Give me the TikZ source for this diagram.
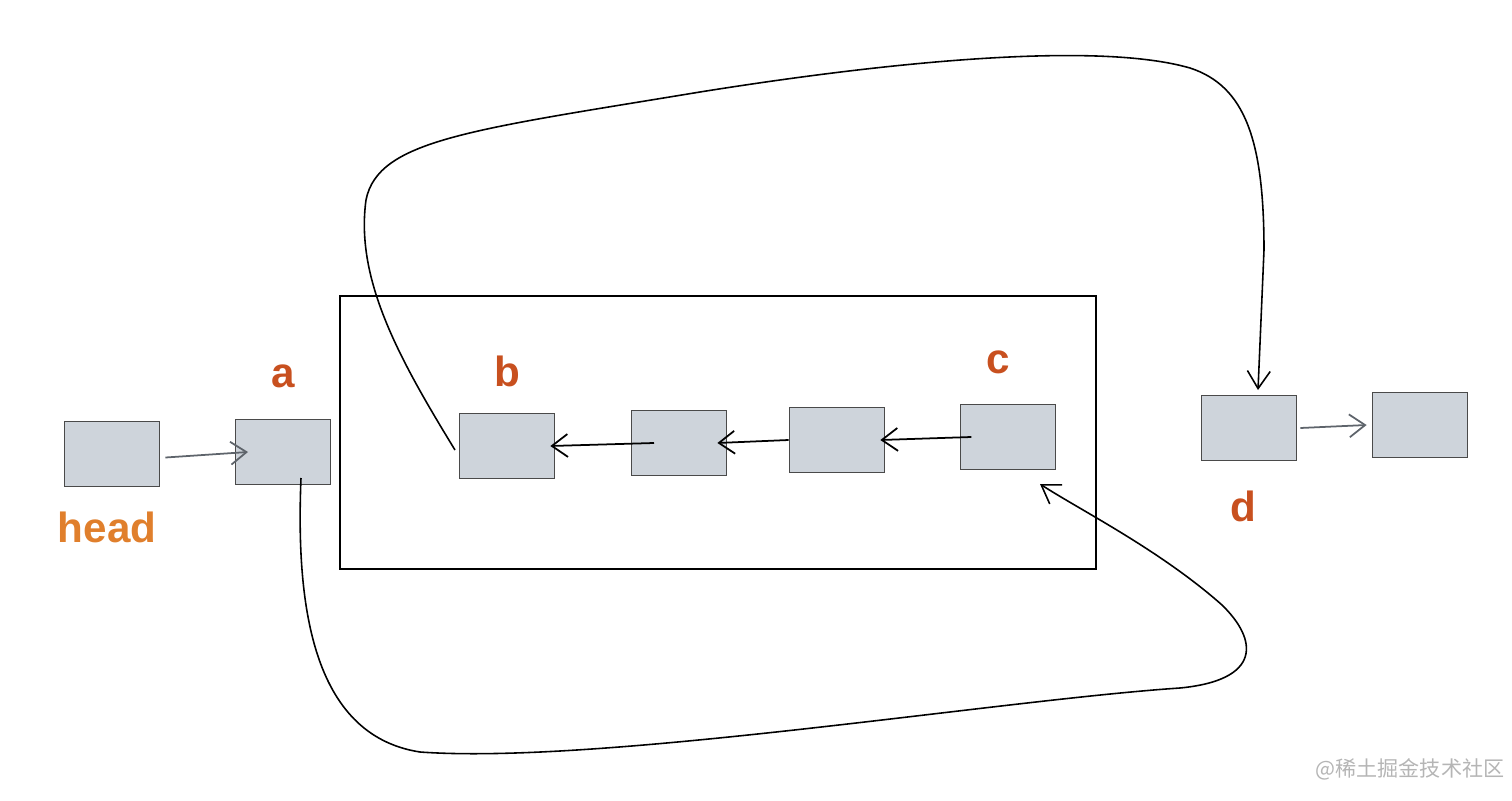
\documentclass[tikz,border=0pt]{standalone}
\usepackage{fontspec}
\setsansfont{Liberation Sans}
\newfontfamily\cjkfont{Noto Sans CJK SC}
\usetikzlibrary{arrows.meta, positioning, calc}
\definecolor{BoxFill}{HTML}{CED4DB}
\definecolor{BoxDraw}{HTML}{4A4A4A}
\definecolor{LabelRed}{HTML}{C8501F}
\definecolor{LabelOrange}{HTML}{E07F2C}
\definecolor{ArrowGray}{HTML}{5E646B}
\definecolor{MarkGray}{HTML}{B5B5B5}
\tikzset{
    % Node styles
    listbox/.style={
        rectangle,
        draw=BoxDraw,
        fill=BoxFill,
        line width=1pt,
        minimum width=1.9cm,
        minimum height=1.3cm
    },
    namelabel/.style={
        font=\sffamily\bfseries\fontsize{24}{26}\selectfont,
        text=LabelRed
    },
    % Arrow styles
    linkarrow/.style={
        -{Straight Barb[length=9pt,width=13pt]},
        line width=1pt,
        black
    },
    grayarrow/.style={
        -{Straight Barb[length=9pt,width=13pt]},
        line width=1pt,
        ArrowGray
    },
    loopcurve/.style={
        -{Straight Barb[length=10pt,width=13pt]},
        line width=0.9pt,
        black
    }
}
\begin{document}
\begin{tikzpicture}[x=0.02cm, y=-0.02cm]
    \useasboundingbox (0,0) rectangle (1512,801);

    % Frame around the reversed part
    \draw[line width=1pt] (340,296) rectangle (1096,569);

    % List nodes
    \node[listbox] (head) at (112,454) {};
    \node[listbox] (a) at (283,452) {};
    \node[listbox] (b) at (507,446) {};
    \node[listbox] (m1) at (679,443) {};
    \node[listbox] (m2) at (837,440) {};
    \node[listbox] (c) at (1008,437) {};
    \node[listbox] (d) at (1249,428) {};
    \node[listbox] (e) at (1420,425) {};

    % Labels
    \node[namelabel, text=LabelOrange] (headlbl) at (107,527) {head};
    \node[namelabel] (albl) at (283,376) {a};
    \node[namelabel] (blbl) at (507,371) {b};
    \node[namelabel] (clbl) at (998,362) {c};
    \node[namelabel] (dlbl) at (1243,506) {d};

    % Straight links
    \draw[grayarrow] ([xshift=0.1cm,yshift=-2pt]head.east) -- ([xshift=-0.7cm]a.center);
    \draw[linkarrow] ([xshift=-0.5cm]m1.center) -- ([xshift=-0.1cm]b.east);
    \draw[linkarrow] (m2.west) -- ([xshift=-0.2cm]m1.east);
    \draw[linkarrow] ([xshift=-1.7cm]c.east) -- ([xshift=-0.1cm]m2.east);
    \draw[grayarrow] ([xshift=0.06cm]d.east) -- ([xshift=-0.1cm]e.west);

    % Long links
    \coordinate (bstart) at (455,450);
    \coordinate (dtop) at (1258,390);
    \draw[loopcurve] (bstart) .. controls (400,360) and (355,280) .. (366,200)
        .. controls (378,140) and (470,130) .. (700,92)
        .. controls (900,60) and (1100,42) .. (1190,68)
        .. controls (1245,86) and (1264,140) .. (1264,250)
        -- (dtop);
    \coordinate (abottom) at (301,478);
    \coordinate (cbottom) at (1040,484);
    \draw[loopcurve] (abottom) .. controls (296,600) and (310,735) .. (420,752)
        .. controls (600,765) and (1000,700) .. (1180,688)
        .. controls (1262,680) and (1258,640) .. (1222,605)
        .. controls (1160,550) and (1080,510) .. (cbottom);

    % Watermark
    \node[text=MarkGray, font=\cjkfont\fontsize{12}{14}\selectfont] (mark) at (1410,769) {@稀土掘金技术社区};
\end{tikzpicture}
\end{document}
